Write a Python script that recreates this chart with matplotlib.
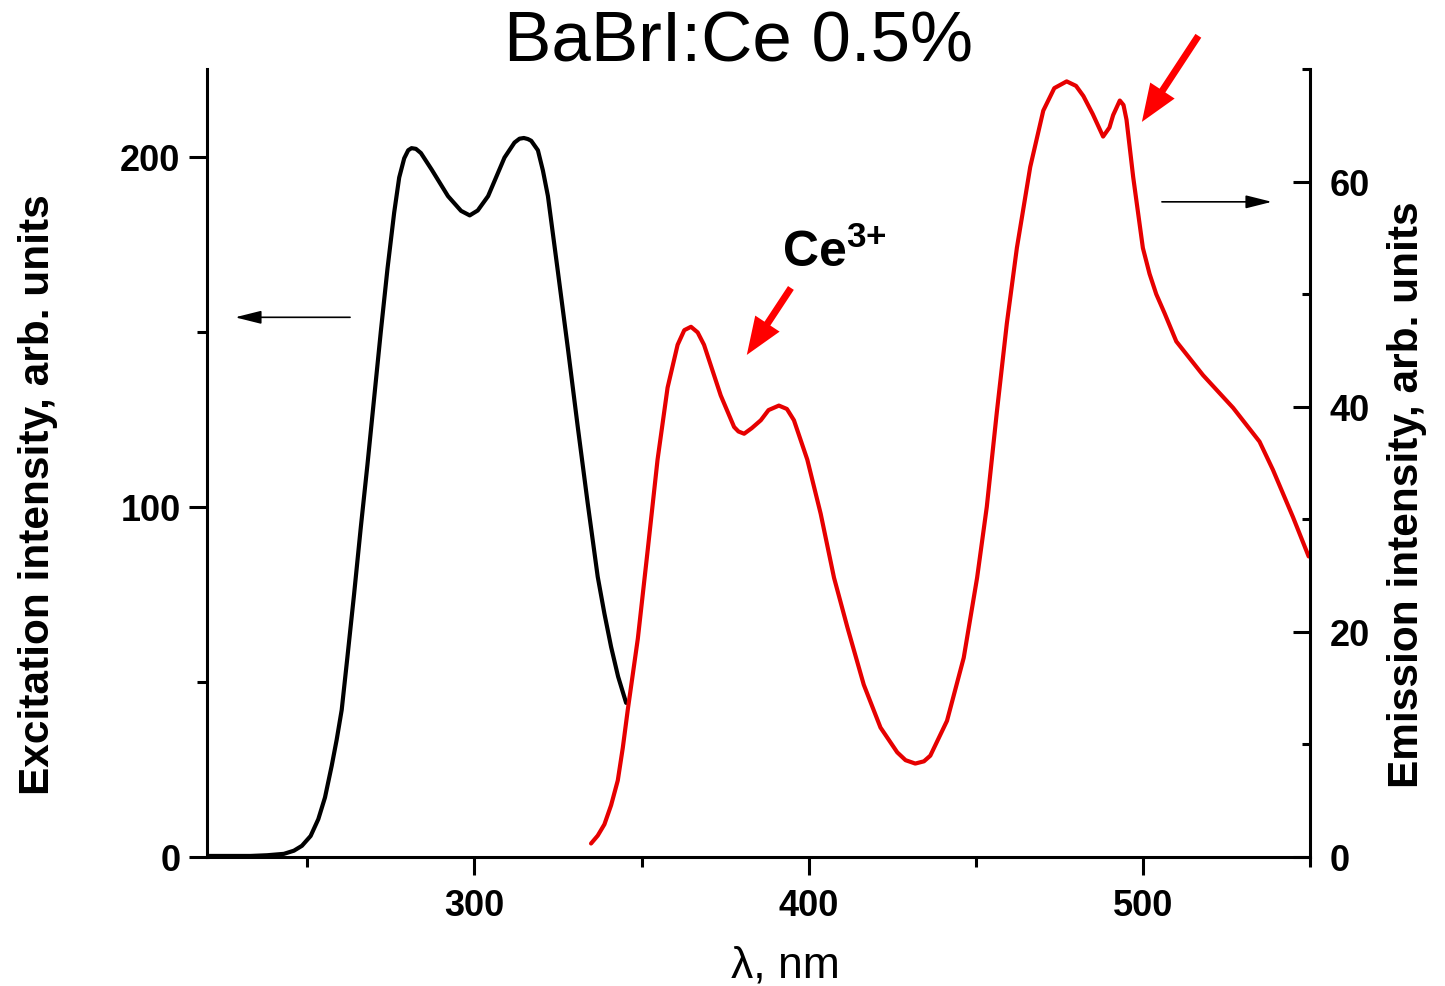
import matplotlib
matplotlib.use('Agg')
import matplotlib.pyplot as plt
from matplotlib.ticker import MultipleLocator

plt.rcParams['font.family'] = ['Liberation Sans', 'DejaVu Sans']
plt.rcParams['mathtext.fontset'] = 'custom'
plt.rcParams['mathtext.rm'] = 'Liberation Sans'
plt.rcParams['mathtext.bf'] = 'Liberation Sans:bold'

# Excitation spectrum (left axis)
exc_nm = [220.5, 233, 238, 243, 246, 248.4, 251, 253.3, 255.3, 257.3, 258.8, 260.3,
          262, 264, 266, 268, 270, 272, 274, 276, 277.5, 279, 280.2, 281.2, 282.5, 284,
          287.2, 292.1, 296, 298.6, 301, 304.1, 309, 312, 313.5, 314.8, 316, 317, 319,
          320.5, 322, 325, 328, 330.9, 333.9, 336.9, 338.9, 340.9, 343, 345.4]
exc_int = [0.3, 0.3, 0.5, 0.9, 1.8, 3.2, 6, 10.8, 17, 26, 33.5, 42,
           57, 75, 94, 112, 131, 150, 168, 184, 194, 199.5, 201.8, 202.4, 202.2, 201,
           196.3, 188.7, 184.5, 183.2, 184.6, 188.7, 199.7, 204, 205.1, 205.3, 205, 204.5, 201.8,
           196, 188.7, 167, 145, 123, 101, 80, 69.5, 60, 51.5, 44]

# Emission spectrum (right axis)
em_nm = [334.9, 336.9, 338.9, 340.9, 342.9, 344.4, 345.9, 348.9, 351.9, 354.8, 357.8,
         360.8, 362.8, 364.8, 366.8, 368.7, 373.7, 377.7, 379, 380.7, 383, 385.7, 388,
         391.1, 393.5, 395.6, 399.6, 403.6, 407.6, 411.6, 416.5, 421.5, 426.5, 429,
         431.9, 434.5, 436.4, 441.4, 446.4, 450.4, 453.3, 456.3, 459.3, 462.3, 466.3,
         470.2, 473.5, 477.2, 480, 482.2, 485, 488.1, 490, 491.1, 493.1, 494.2, 495.1,
         497.1, 500, 502, 504, 506.5, 510, 518, 527, 534.9, 538.9, 544.9, 549.6]
em_int = [1.2, 1.9, 2.9, 4.6, 6.8, 9.7, 13.1, 19.4, 27.4, 35.3, 41.7,
          45.5, 46.8, 47.1, 46.6, 45.5, 41.0, 38.2, 37.8, 37.6, 38.1, 38.8, 39.7,
          40.1, 39.8, 38.8, 35.3, 30.5, 24.8, 20.4, 15.3, 11.5, 9.3, 8.6,
          8.3, 8.5, 9.0, 12.1, 17.7, 24.8, 31.1, 39.5, 47.4, 54.1, 61.3,
          66.3, 68.3, 68.9, 68.5, 67.6, 66, 64.0, 64.8, 65.9, 67.2, 66.8, 65.5,
          60.4, 54.1, 51.8, 50.0, 48.3, 45.8, 42.8, 39.9, 36.9, 34.4, 30.2, 26.7]

W, H = 1445, 987
fig = plt.figure(figsize=(W / 100, H / 100), dpi=100)
ax = fig.add_axes([207 / W, 1 - 858 / H, (1310 - 207) / W, (858 - 70) / H])
ax2 = ax.twinx()

ax.plot(exc_nm, exc_int, color='black', lw=3, solid_joinstyle='round', solid_capstyle='round')
ax2.plot(em_nm, em_int, color='#e60000', lw=3, solid_joinstyle='round', solid_capstyle='round')

ax.set_xlim(220, 550)
ax.set_ylim(0, 225)
ax2.set_ylim(0, 70)

for a in (ax, ax2):
    a.spines['top'].set_visible(False)
    for s in a.spines.values():
        s.set_linewidth(2.2)
ax.spines['right'].set_visible(False)
ax2.spines['left'].set_visible(False)
ax2.spines['bottom'].set_visible(False)

ax.xaxis.set_major_locator(MultipleLocator(100))
ax.xaxis.set_minor_locator(MultipleLocator(50))
ax.yaxis.set_major_locator(MultipleLocator(100))
ax.yaxis.set_minor_locator(MultipleLocator(50))
ax2.yaxis.set_major_locator(MultipleLocator(20))
ax2.yaxis.set_minor_locator(MultipleLocator(10))

ax.tick_params(axis='both', which='major', direction='out', length=13, width=2.2,
               labelsize=26, pad=6)
ax.tick_params(axis='x', which='major', pad=9)
ax.tick_params(axis='both', which='minor', direction='out', length=7, width=2.2)
ax.tick_params(axis='y', which='both', right=False)
ax2.tick_params(axis='y', which='major', direction='in', length=12, width=2.2,
                labelsize=26, pad=14)
ax2.tick_params(axis='y', which='minor', direction='in', length=6, width=2.2)
for lab in ax.get_xticklabels() + ax.get_yticklabels() + ax2.get_yticklabels():
    lab.set_fontweight('bold')

# Titles and labels
fig.text(738 / W, 1 - 44 / H, 'BaBrI:Ce 0.5%', fontsize=51, ha='center', va='center')
fig.text(785 / W, 1 - 966 / H, 'λ, nm', fontsize=32, ha='center', va='center')
fig.text(38 / W, 1 - 495 / H, 'Excitation intensity, arb. units', fontsize=30.5,
         fontweight='bold', rotation=90, ha='center', va='center')
fig.text(1407 / W, 1 - 495 / H, 'Emission intensity, arb. units', fontsize=30.5,
         fontweight='bold', rotation=90, ha='center', va='center')

# Axis-indicating arrows
ax.annotate('', xy=(228.4, 154.1), xytext=(262.8, 154.1),
            arrowprops=dict(arrowstyle='-|>,head_length=0.8,head_width=0.2',
                            mutation_scale=20, lw=1.2, color='black',
                            shrinkA=0, shrinkB=0))
ax2.annotate('', xy=(538.6, 58.2), xytext=(505.7, 58.2),
             arrowprops=dict(arrowstyle='-|>,head_length=0.8,head_width=0.2',
                             mutation_scale=20, lw=1.2, color='black',
                             shrinkA=0, shrinkB=0))

# Red pointer arrows
red_style = 'simple,head_length=27,head_width=21,tail_width=5'
ax2.annotate('', xy=(381.5, 44.6), xytext=(394.7, 50.55),
             arrowprops=dict(arrowstyle=red_style, mutation_scale=1, color='#ff0000',
                             lw=0, shrinkA=0, shrinkB=0), annotation_clip=False)
ax2.annotate('', xy=(499.7, 65.3), xytext=(516.6, 72.95),
             arrowprops=dict(arrowstyle=red_style, mutation_scale=1, color='#ff0000',
                             lw=0, shrinkA=0, shrinkB=0), annotation_clip=False)

ax2.text(392.1, 52.5, r'$\mathbf{Ce^{3{+}}}$', fontsize=36, ha='left', va='baseline')

fig.savefig('out.png', dpi=100)
